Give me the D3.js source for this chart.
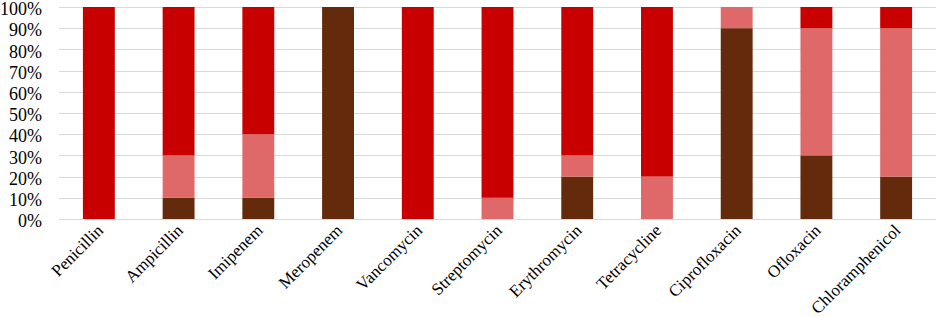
<!DOCTYPE html>
<html>
<head>
<meta charset="utf-8">
<script src="https://cdn.jsdelivr.net/npm/d3@7"></script>
<style>
    body { margin: 0; background: #fff; }
    svg { display: block; }
</style>
</head>
<body>
<div id="chart"></div>
<script>
const width = 937;
const height = 317;

// antibiotics, bottom to top: dark brown, pink, red
const categories = ["Penicillin", "Ampicillin", "Imipenem", "Meropenem", "Vancomycin", "Streptomycin",
    "Erythromycin", "Tetracycline", "Ciprofloxacin", "Ofloxacin", "Chloramphenicol"];
const sensitive = [0, 10, 10, 100, 0, 0, 20, 0, 90, 30, 20];
const intermediate = [0, 20, 30, 0, 0, 10, 10, 20, 10, 60, 70];
const resistant = [100, 70, 60, 0, 100, 90, 70, 80, 0, 10, 10];
const yTicks = [0, 0.1, 0.2, 0.3, 0.4, 0.5, 0.6, 0.7, 0.8, 0.9, 1];

const seriesKeys = ["sensitive", "intermediate", "resistant"];
const colors = { sensitive: "#642a0c", intermediate: "#df6868", resistant: "#c80000" };

const rows = categories.map((name, i) => ({
    name,
    sensitive: sensitive[i] / 100,
    intermediate: intermediate[i] / 100,
    resistant: resistant[i] / 100
}));

const margin = { top: 7, right: 1, bottom: 98, left: 59 };
const labelFont = "'Liberation Serif', 'Times New Roman', serif";

const svg = d3.select("#chart").append("svg")
    .attr("width", width)
    .attr("height", height);

const x = d3.scaleBand()
    .domain(categories)
    .range([margin.left, width - margin.right])
    .paddingInner(0.6)
    .paddingOuter(0.3);

const y = d3.scaleLinear()
    .domain([0, 1])
    .range([height - margin.bottom, margin.top]);

// Gridlines
svg.append("g")
    .selectAll("line")
    .data(yTicks)
    .join("line")
    .attr("x1", margin.left)
    .attr("x2", width - margin.right)
    .attr("y1", d => Math.round(y(d)) + 0.5)
    .attr("y2", d => Math.round(y(d)) + 0.5)
    .attr("stroke", "#d9d9d9")
    .attr("stroke-width", 1);

// Y axis labels
const yAxis = d3.axisLeft(y)
    .tickValues(yTicks)
    .tickFormat(d3.format(".0%"))
    .tickSize(0)
    .tickPadding(0);

svg.append("g")
    .attr("transform", `translate(${margin.left - 17},2)`)
    .call(yAxis)
    .call(g => g.select(".domain").remove())
    .call(g => g.selectAll("text")
        .attr("fill", "#000")
        .style("font-family", labelFont)
        .style("font-size", "18px"));

// Stacked bars
const stack = d3.stack().keys(seriesKeys);
const layers = stack(rows);

svg.append("g")
    .selectAll("g")
    .data(layers)
    .join("g")
    .attr("fill", d => colors[d.key])
    .selectAll("rect")
    .data(d => d)
    .join("rect")
    .attr("x", d => x(d.data.name))
    .attr("width", x.bandwidth())
    .attr("y", d => y(d[1]))
    .attr("height", d => y(d[0]) - y(d[1]));

// Category labels, rotated
svg.append("g")
    .selectAll("text")
    .data(categories)
    .join("text")
    .attr("transform", d => `translate(${x(d) + x.bandwidth() / 2 - 3},${height - margin.bottom + 4}) rotate(-45)`)
    .attr("text-anchor", "end")
    .attr("dy", "0.7em")
    .style("font-family", labelFont)
    .style("font-size", "17px")
    .attr("fill", "#000")
    .text(d => d);
</script>
</body>
</html>
